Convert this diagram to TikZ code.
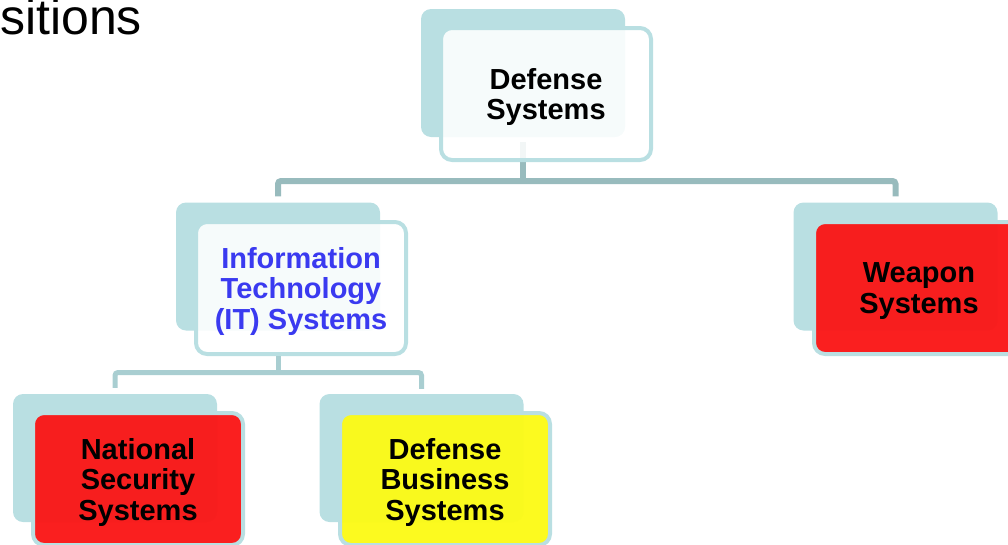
\documentclass[tikz,border=0pt]{standalone}
\usepackage{fontspec}
\setmainfont{Liberation Sans}
\definecolor{tealback}{RGB}{185,223,226}
\definecolor{connA}{RGB}{152,187,189}
\definecolor{connB}{RGB}{169,206,209}
\definecolor{boxred}{RGB}{250,24,24}
\definecolor{boxyellow}{RGB}{252,250,24}
\definecolor{itblue}{RGB}{58,58,240}
\tikzset{
  backbox/.style={fill=tealback, rounded corners=10pt, minimum width=204pt, minimum height=128pt, inner sep=0pt, draw=none},
  frontbox/.style={draw=tealback, line width=4pt, rounded corners=11pt, minimum width=210pt, minimum height=132pt, inner sep=0pt, text depth=0pt, align=center, font=\fontsize{29}{30.5}\selectfont\bfseries, text opacity=1},
  whitebox/.style={frontbox, fill=white, fill opacity=0.88},
  redbox/.style={frontbox, fill=boxred, fill opacity=0.97},
  yellowbox/.style={frontbox, fill=boxyellow, fill opacity=0.97},
  connone/.style={draw=connA, line width=6pt, rounded corners=3pt},
  conntwo/.style={draw=connB, line width=5pt, rounded corners=3pt}
}
\begin{document}
\begin{tikzpicture}[x=1pt, y=-1pt]
\useasboundingbox (0,0) rectangle (1008,544);
% title fragment
\node[anchor=base west, inner sep=0pt, font=\fontsize{50}{52}\selectfont] (title) at (0,34) {sitions};
% back boxes
\node[backbox] (tb) at (523,73) {};
\node[backbox] (itb) at (278,266.5) {};
\node[backbox] (wb) at (895.5,266.5) {};
\node[backbox] (nb) at (115,458) {};
\node[backbox] (db) at (421.5,458) {};
% junctions
\coordinate (j1) at (523,181);
\coordinate (j2) at (278,372.5);
% connectors
\draw[connone, shorten <=5pt] (tb.south) -- (j1);
\draw[connone, shorten <=6pt, shorten >=6pt] (itb.north) |- (j1) -| (wb.north);
% front boxes
\node[whitebox] (t) at (546,94) {Defense\\Systems};
\node[whitebox, text=itblue] (it) at (301,288) {Information\\Technology\\(IT) Systems};
\node[redbox] (w) at (919,288) {Weapon\\Systems};
\node[redbox] (n) at (138,479) {National\\Security\\Systems};
\node[yellowbox] (d) at (445,479) {Defense\\Business\\Systems};
% lower connectors
\draw[conntwo] (itb.south |- it.south) -- (j2);
\draw[conntwo, shorten <=6pt, shorten >=5pt] (nb.north) |- (j2) -| (db.north);
\end{tikzpicture}
\end{document}
